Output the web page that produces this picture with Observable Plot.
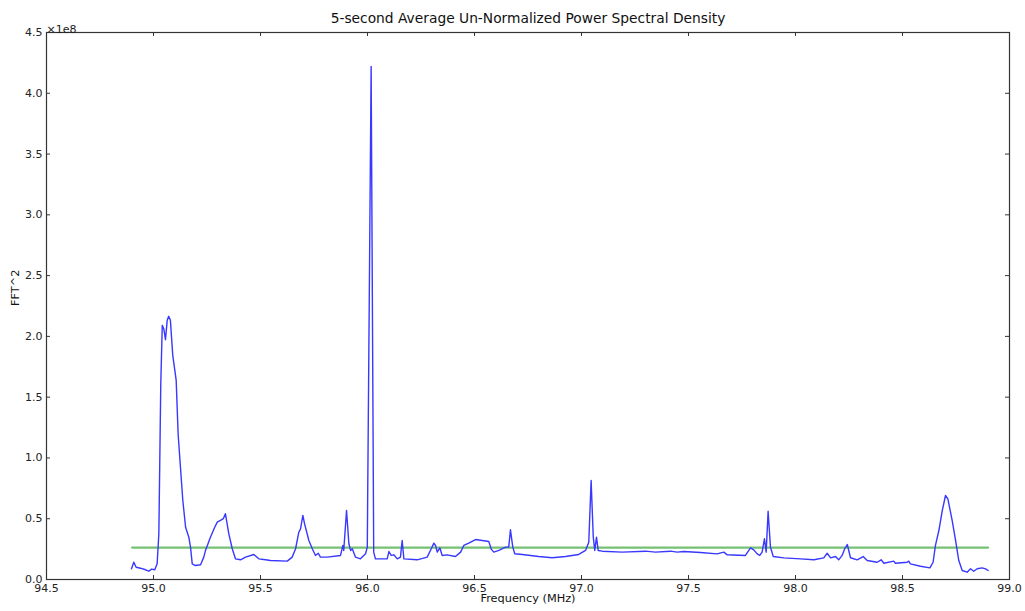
<!DOCTYPE html>
<html>
<head>
<meta charset="utf-8">
<script src="https://cdn.jsdelivr.net/npm/d3@7"></script>
<script src="https://cdn.jsdelivr.net/npm/@observablehq/plot@0.6"></script>
<style>
  html, body { margin: 0; padding: 0; background: #fff; }
  #chart svg { display: block; font-family: "DejaVu Sans", sans-serif; }
</style>
</head>
<body>
<div id="chart"></div>
<script>
// Frequency (MHz)
const freq = [
  94.897, 94.908, 94.919, 94.939, 94.963, 94.978, 94.991, 95.006, 95.017, 95.025,
  95.029, 95.034, 95.041, 95.048, 95.056, 95.064, 95.071, 95.079, 95.090, 95.106,
  95.115, 95.126, 95.137, 95.150, 95.165, 95.173, 95.181, 95.196, 95.220, 95.235,
  95.243, 95.266, 95.286, 95.298, 95.313, 95.326, 95.336, 95.352, 95.368, 95.383,
  95.407, 95.430, 95.469, 95.492, 95.523, 95.547, 95.625, 95.648, 95.664, 95.679,
  95.687, 95.698, 95.706, 95.718, 95.726, 95.742, 95.757, 95.770, 95.780, 95.812,
  95.874, 95.885, 95.889, 95.902, 95.913, 95.921, 95.929, 95.944, 95.967, 95.991,
  95.999, 96.017, 96.029, 96.037, 96.092, 96.100, 96.111, 96.123, 96.139, 96.154,
  96.162, 96.170, 96.232, 96.279, 96.298, 96.310, 96.318, 96.326, 96.338, 96.349,
  96.372, 96.411, 96.435, 96.450, 96.473, 96.505, 96.567, 96.578, 96.590, 96.614,
  96.645, 96.660, 96.668, 96.679, 96.688, 96.723, 96.800, 96.863, 96.925, 96.987,
  97.019, 97.034, 97.045, 97.055, 97.062, 97.070, 97.078, 97.097, 97.190, 97.299,
  97.346, 97.416, 97.447, 97.478, 97.556, 97.634, 97.665, 97.681, 97.766, 97.790,
  97.805, 97.821, 97.833, 97.844, 97.855, 97.863, 97.872, 97.883, 97.896, 97.945,
  98.023, 98.086, 98.132, 98.148, 98.164, 98.187, 98.202, 98.218, 98.230, 98.242,
  98.257, 98.288, 98.316, 98.335, 98.382, 98.400, 98.413, 98.459, 98.467, 98.522,
  98.529, 98.537, 98.584, 98.628, 98.643, 98.654, 98.670, 98.686, 98.701, 98.712,
  98.732, 98.748, 98.763, 98.779, 98.802, 98.818, 98.833, 98.849, 98.872, 98.888,
  98.900
];
// Power spectral density, FFT^2 in units of 1e8
const psd = [
  0.088, 0.142, 0.101, 0.093, 0.080, 0.068, 0.085, 0.080, 0.129, 0.376,
  0.924, 1.611, 2.091, 2.063, 1.973, 2.132, 2.165, 2.132, 1.844, 1.638,
  1.199, 0.924, 0.650, 0.430, 0.348, 0.266, 0.129, 0.115, 0.121, 0.184,
  0.239, 0.348, 0.430, 0.472, 0.486, 0.500, 0.541, 0.376, 0.253, 0.170,
  0.162, 0.184, 0.206, 0.170, 0.162, 0.156, 0.151, 0.184, 0.253, 0.389,
  0.417, 0.527, 0.458, 0.376, 0.321, 0.253, 0.198, 0.216, 0.184, 0.184,
  0.198, 0.280, 0.239, 0.568, 0.294, 0.239, 0.253, 0.184, 0.170, 0.212,
  0.266, 4.220, 0.225, 0.170, 0.170, 0.230, 0.198, 0.203, 0.170, 0.184,
  0.321, 0.170, 0.162, 0.184, 0.253, 0.299, 0.280, 0.225, 0.261, 0.198,
  0.203, 0.189, 0.225, 0.280, 0.299, 0.329, 0.313, 0.250, 0.225, 0.239,
  0.266, 0.266, 0.409, 0.266, 0.212, 0.206, 0.189, 0.179, 0.189, 0.206,
  0.239, 0.307, 0.815, 0.348, 0.239, 0.348, 0.239, 0.233, 0.225, 0.233,
  0.225, 0.233, 0.225, 0.230, 0.222, 0.211, 0.225, 0.203, 0.198, 0.260,
  0.244, 0.211, 0.198, 0.225, 0.335, 0.225, 0.562, 0.266, 0.189, 0.178,
  0.170, 0.162, 0.178, 0.216, 0.178, 0.189, 0.162, 0.198, 0.253, 0.288,
  0.179, 0.162, 0.189, 0.156, 0.142, 0.162, 0.134, 0.151, 0.134, 0.142,
  0.151, 0.129, 0.109, 0.096, 0.142, 0.280, 0.403, 0.568, 0.691, 0.664,
  0.486, 0.321, 0.156, 0.074, 0.060, 0.088, 0.068, 0.088, 0.096, 0.088,
  0.074
];
// Threshold (green line), units of 1e8
const thresholdFreq = [94.9, 98.9];
const thresholdValue = [0.263, 0.263];

const xTicks = [94.5, 95.0, 95.5, 96.0, 96.5, 97.0, 97.5, 98.0, 98.5, 99.0];
const yTicks = [0.0, 0.5, 1.0, 1.5, 2.0, 2.5, 3.0, 3.5, 4.0, 4.5];

const titleText = "5-second Average Un-Normalized Power Spectral Density";
const xLabel = "Frequency (MHz)";
const yLabel = "FFT^2";
const yMultiplier = "\u00d71e8";

const spectrum = freq.map((f, i) => ({f, v: psd[i]}));
const threshold = thresholdFreq.map((f, i) => ({f, v: thresholdValue[i]}));

const xDom = [94.5, 99.0];
const yDom = [0, 4.5];
const W = 1025, H = 611;
const mL = 46, mR = 16, mT = 32, mB = 32;
// tick length in px converted to data units via the scale spans
const tickPx = 4;
const xTickLen = tickPx * (xDom[1] - xDom[0]) / (W - mL - mR);
const yTickLen = tickPx * (yDom[1] - yDom[0]) / (H - mT - mB);

const chart = Plot.plot({
  width: W,
  height: H,
  marginLeft: mL,
  marginRight: mR,
  marginTop: mT,
  marginBottom: mB,
  style: {fontFamily: "DejaVu Sans, sans-serif", background: "#fff"},
  x: {domain: xDom},
  y: {domain: yDom},
  marks: [
    Plot.line(threshold, {x: "f", y: "v", stroke: "#74c174", strokeWidth: 2.2}),
    Plot.line(spectrum, {x: "f", y: "v", stroke: "#3838ff", strokeWidth: 1.4, strokeLinejoin: "round"}),
    Plot.frame({stroke: "#333", strokeWidth: 1.2}),
    // inward ticks on all four sides
    Plot.ruleX(xTicks, {x: d => d, y1: yDom[0], y2: yDom[0] + yTickLen, stroke: "#333"}),
    Plot.ruleX(xTicks, {x: d => d, y1: yDom[1], y2: yDom[1] - yTickLen, stroke: "#333"}),
    Plot.ruleY(yTicks, {y: d => d, x1: xDom[0], x2: xDom[0] + xTickLen, stroke: "#333"}),
    Plot.ruleY(yTicks, {y: d => d, x1: xDom[1], x2: xDom[1] - xTickLen, stroke: "#333"}),
    Plot.axisX(xTicks, {anchor: "bottom", tickSize: 0, tickPadding: 5, tickFormat: d => d.toFixed(1), fontSize: 11, fill: "#222", label: null}),
    Plot.axisY(yTicks, {anchor: "left", tickSize: 0, tickPadding: 4, tickFormat: d => d.toFixed(1), fontSize: 11, fill: "#222", label: null}),
    Plot.text([titleText], {frameAnchor: "top", dy: -19, fontSize: 13.8, fill: "#111"}),
    Plot.text([xLabel], {frameAnchor: "bottom", dy: 22, fontSize: 11.3, fill: "#111"}),
    Plot.text([yLabel], {frameAnchor: "left", dx: -31, rotate: -90, fontSize: 11.3, fill: "#111"}),
    Plot.text([yMultiplier], {frameAnchor: "top-left", dy: -7, textAnchor: "start", fontSize: 11, fill: "#222"})
  ]
});
document.getElementById("chart").appendChild(chart);
</script>
</body>
</html>
